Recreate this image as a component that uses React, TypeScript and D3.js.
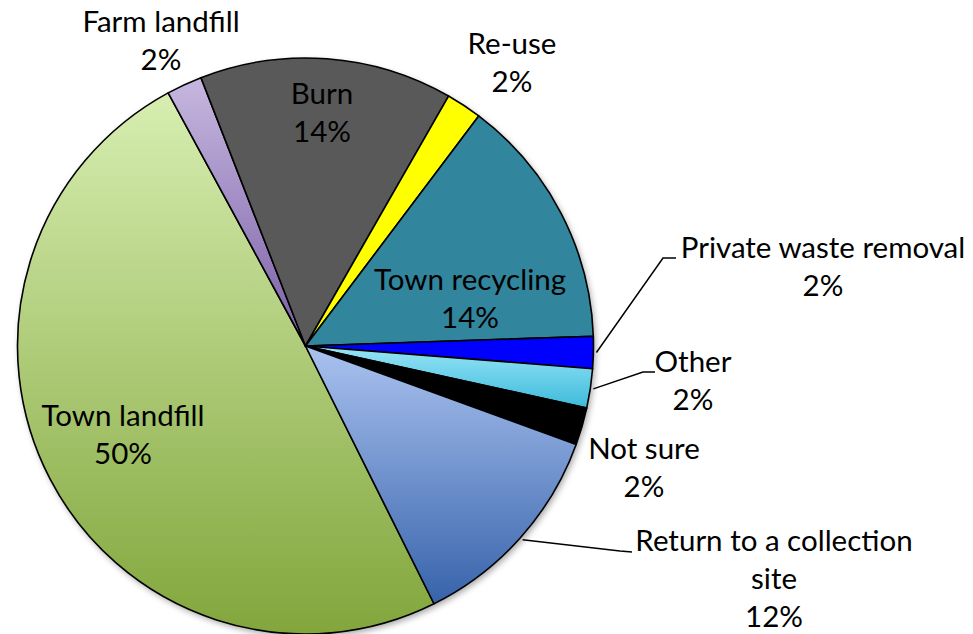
import React from 'react';
import * as d3 from 'd3';

// categories in clockwise order, starting at the bottom of "Town landfill"
const categories = [
  'Town landfill',
  'Farm landfill',
  'Burn',
  'Re-use',
  'Town recycling',
  'Private waste removal',
  'Other',
  'Not sure',
  'Return to a collection site',
];
const shares = [49.5, 2.0, 14.2, 2.0, 14.2, 1.8, 2.2, 2.1, 12.1];
const pctLabels = ['50%', '2%', '14%', '2%', '14%', '2%', '2%', '2%', '12%'];

// fill: [top colour, bottom colour] (gradient over the slice)
const fills = [
  ['#d7eeb1', '#82a63c'],
  ['#c6b7df', '#7a5fa6'],
  ['#595959', '#595959'],
  ['#ffff00', '#ffff00'],
  ['#31859c', '#31859c'],
  ['#0000ff', '#0000ff'],
  ['#97e5f6', '#3dbadb'],
  ['#000000', '#000000'],
  ['#aac2ef', '#3763ab'],
];

// label layout: centre x, first baseline y, wrapped text lines
const labelLayout = [
  { x: 123, y: 426, lines: ['Town landfill'] },
  { x: 161, y: 32, lines: ['Farm landfill'] },
  { x: 322, y: 104, lines: ['Burn'] },
  { x: 512, y: 54, lines: ['Re-use'] },
  { x: 470, y: 290, lines: ['Town recycling'] },
  { x: 823, y: 258, lines: ['Private waste removal'] },
  { x: 693, y: 372, lines: ['Other'] },
  { x: 644, y: 459, lines: ['Not sure'] },
  { x: 774, y: 551, lines: ['Return to a collection', 'site'] },
];

// leader lines: elbow and end point (start comes from the arc)
const leaders: Record<number, number[][]> = {
  5: [[663, 258], [676, 258]],
  6: [[643, 372], [655, 372]],
  8: [[620, 551], [632, 552]],
};

const W = 973;
const H = 634;
const cx = 305.5;
const cy = 346;
const R = 288;
const lineH = 38;

export default function App() {
  const startDeg = 153.5;
  const pie = d3.pie<number>()
    .sort(null)
    .value(d => d)
    .startAngle(startDeg * Math.PI / 180)
    .endAngle(startDeg * Math.PI / 180 + 2 * Math.PI);
  const arcs = pie(shares);
  const arc = d3.arc<d3.PieArcDatum<number>>().innerRadius(0).outerRadius(R);

  const edgePoint = (a: d3.PieArcDatum<number>, r: number) => {
    const m = (a.startAngle + a.endAngle) / 2;
    return [cx + r * Math.sin(m), cy - r * Math.cos(m)];
  };

  return (
    <svg width={W} height={H} style={{ position: 'absolute', left: 0, top: 0, background: '#fff' }}
      fontFamily="Lato, 'Open Sans', sans-serif">
      <defs>
        {fills.map((f, i) => (
          <linearGradient key={i} id={`g${i}`} x1="0" y1="0" x2="0" y2="1">
            <stop offset="0" stopColor={f[0]} />
            <stop offset="1" stopColor={f[1]} />
          </linearGradient>
        ))}
        <filter id="shadow" x="-10%" y="-10%" width="120%" height="120%">
          <feDropShadow dx="2" dy="3" stdDeviation="3" floodColor="#000" floodOpacity="0.35" />
        </filter>
      </defs>
      <g transform={`translate(${cx},${cy})`}>
        <circle r={R} fill="#fff" filter="url(#shadow)" />
        {arcs.map((a, i) => (
          <path key={i} d={arc(a) || ''} fill={`url(#g${i})`} stroke="#000" strokeWidth={1.6}
            strokeLinejoin="round">
            <title>{categories[i]}</title>
          </path>
        ))}
      </g>
      {arcs.map((a, i) => {
        const pts = leaders[i];
        if (!pts) return null;
        const s = edgePoint(a, R + 3);
        const line = d3.line()([s as [number, number], ...(pts as [number, number][])]);
        return <path key={`l${i}`} d={line || ''} fill="none" stroke="#000" strokeWidth={1.5} />;
      })}
      {labelLayout.map((l, i) => (
        <text key={`t${i}`} x={l.x} y={l.y} textAnchor="middle" fontSize={29.5} fill="#000">
          {[...l.lines, pctLabels[i]].map((s, j) => (
            <tspan key={j} x={l.x} y={l.y + j * lineH}>{s}</tspan>
          ))}
        </text>
      ))}
    </svg>
  );
}
